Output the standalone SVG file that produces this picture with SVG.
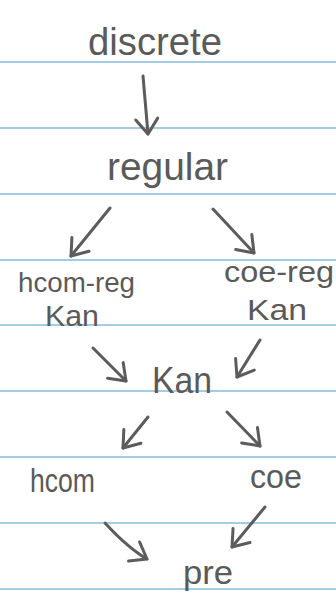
<svg xmlns="http://www.w3.org/2000/svg" width="336" height="603" viewBox="0 0 336 603">
  <style>
    .rule { stroke: #84bbdd; stroke-width: 1.6; }
    .lbl { font-family: "Liberation Sans", "DejaVu Sans", sans-serif; fill: #5a5a5a; }
    .edge { fill: none; stroke: #5c5c5c; stroke-width: 3; stroke-linecap: round; stroke-linejoin: round; }
  </style>
  <defs>
    <marker id="head" markerUnits="userSpaceOnUse" markerWidth="40" markerHeight="40" viewBox="-20 -20 40 40" refX="0" refY="0" orient="auto" overflow="visible">
      <path d="M -15 -11 L 0 0 L -15 11" fill="none" stroke="#5c5c5c" stroke-width="3" stroke-linecap="round" stroke-linejoin="round"/>
    </marker>
  </defs>

  <!-- paper background and ruling -->
  <rect width="336" height="603" fill="#ffffff"/>
  <g id="ruling">
    <line class="rule" x1="0" y1="62" x2="336" y2="62"/>
    <line class="rule" x1="0" y1="128" x2="336" y2="128"/>
    <line class="rule" x1="0" y1="194" x2="336" y2="194"/>
    <line class="rule" x1="0" y1="260" x2="336" y2="260"/>
    <line class="rule" x1="0" y1="325" x2="336" y2="325"/>
    <line class="rule" x1="0" y1="391" x2="336" y2="391"/>
    <line class="rule" x1="0" y1="457" x2="336" y2="457"/>
    <line class="rule" x1="0" y1="523" x2="336" y2="523"/>
    <line class="rule" x1="0" y1="589" x2="336" y2="589"/>
  </g>

  <!-- connectors -->
  <g id="connectors">
    <path class="edge" d="M 143 76 L 148 134" marker-end="url(#head)"/>
    <path class="edge" d="M 110 208 L 71 256" marker-end="url(#head)"/>
    <path class="edge" d="M 213 209 L 254 253" marker-end="url(#head)"/>
    <path class="edge" d="M 93 348 L 126 381" marker-end="url(#head)"/>
    <path class="edge" d="M 260 340 L 237 377" marker-end="url(#head)"/>
    <path class="edge" d="M 148 417 L 123 448" marker-end="url(#head)"/>
    <path class="edge" d="M 227 412 L 260 446" marker-end="url(#head)"/>
    <path class="edge" d="M 105 523 Q 128 548 147 559" marker-end="url(#head)"/>
    <path class="edge" d="M 265 507 L 232 547" marker-end="url(#head)"/>
  </g>

  <!-- nodes -->
  <g id="discrete">
    <text class="lbl" x="88" y="55" font-size="38" textLength="134" lengthAdjust="spacingAndGlyphs">discrete</text>
  </g>
  <g id="regular">
    <text class="lbl" x="107" y="180" font-size="38" textLength="121" lengthAdjust="spacingAndGlyphs">regular</text>
  </g>
  <g id="hcom-reg-kan">
    <text class="lbl" x="18" y="292" font-size="28" textLength="117" lengthAdjust="spacingAndGlyphs">hcom-reg</text>
    <text class="lbl" x="45" y="326" font-size="29" textLength="54" lengthAdjust="spacingAndGlyphs">Kan</text>
  </g>
  <g id="coe-reg-kan">
    <text class="lbl" x="224" y="282" font-size="29" textLength="110" lengthAdjust="spacingAndGlyphs">coe-reg</text>
    <text class="lbl" x="247" y="320" font-size="29" textLength="60" lengthAdjust="spacingAndGlyphs">Kan</text>
  </g>
  <g id="kan">
    <text class="lbl" x="152" y="393" font-size="36" textLength="60" lengthAdjust="spacingAndGlyphs">Kan</text>
  </g>
  <g id="hcom">
    <text class="lbl" x="30" y="492" font-size="33" textLength="65" lengthAdjust="spacingAndGlyphs">hcom</text>
  </g>
  <g id="coe">
    <text class="lbl" x="250" y="488" font-size="33" textLength="52" lengthAdjust="spacingAndGlyphs">coe</text>
  </g>
  <g id="pre">
    <text class="lbl" x="183" y="584" font-size="34" textLength="50" lengthAdjust="spacingAndGlyphs">pre</text>
  </g>
</svg>
